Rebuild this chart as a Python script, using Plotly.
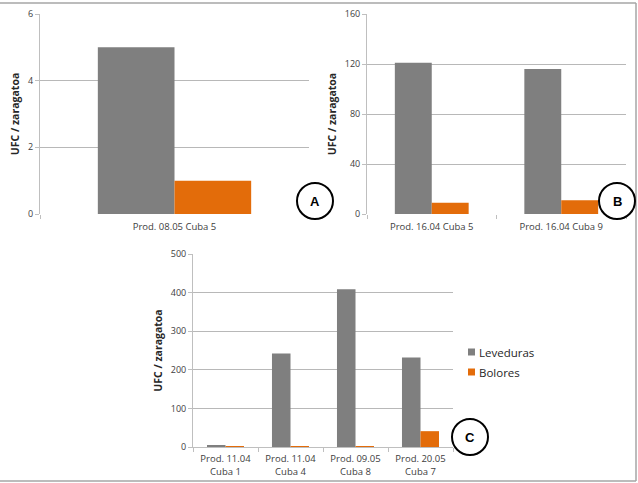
import plotly.graph_objects as go

W, H = 638, 483

series_names = ["Leveduras", "Bolores"]
colors = ["#7f7f7f", "#e36c0a"]

cats_a = ["Prod. 08.05 Cuba 5"]
lev_a = [5]
bol_a = [1]

cats_b = ["Prod. 16.04 Cuba 5", "Prod. 16.04 Cuba 9"]
lev_b = [121, 116]
bol_b = [9, 11]

cats_c = ["Prod. 11.04<br>Cuba 1", "Prod. 11.04<br>Cuba 4", "Prod. 09.05<br>Cuba 8", "Prod. 20.05<br>Cuba 7"]
lev_c = [4, 242, 409, 232]
bol_c = [2, 2, 2, 41]

ticks_a = [0, 2, 4, 6]
ticks_b = [0, 40, 80, 120, 160]
ticks_c = [0, 100, 200, 300, 400, 500]

panel_letters = ["A", "B", "C"]


def px_x(x):
    return x / W


def px_y(y):
    return 1 - y / H


fig = go.Figure()

panels = [
    ("x", "y", cats_a, lev_a, bol_a),
    ("x2", "y2", cats_b, lev_b, bol_b),
    ("x3", "y3", cats_c, lev_c, bol_c),
]
for xa, ya, cats, lev, bol in panels:
    for name, vals, col in zip(series_names, [lev, bol], colors):
        fig.add_trace(go.Bar(x=cats, y=vals, name=name, marker_color=col,
                             marker_line_width=0, xaxis=xa, yaxis=ya,
                             showlegend=False))

FONT = "Open Sans, Liberation Sans, sans-serif"
tick_font = dict(family=FONT, size=9, color="#404040")
cat_font = dict(family=FONT, size=9.5, color="#404040")
title_font = dict(family=FONT, size=10.5, color="#262626")
grid = "#b8b8b8"


def yax(domain, ticks, anchor):
    return dict(domain=domain, range=[0, ticks[-1]], tickvals=ticks, anchor=anchor,
                automargin=False,
                showgrid=True, gridcolor=grid, gridwidth=1, zeroline=False,
                showline=True, linecolor="#bfbfbf", linewidth=1,
                ticks="outside", ticklen=4, tickcolor="#bfbfbf",
                tickfont=tick_font,
                title=dict(text="<b>UFC / zaragatoa</b>", font=title_font, standoff=6))


def xax(domain, anchor, line, standoff):
    return dict(domain=domain, anchor=anchor, showgrid=False, zeroline=False,
                automargin=False,
                showline=line, linecolor="#bfbfbf", linewidth=1,
                ticks="outside", tickson="boundaries", ticklen=4, tickcolor="#bfbfbf",
                ticklabelstandoff=standoff,
                tickfont=cat_font)


ydom_ab = [px_y(214), px_y(14)]
fig.update_layout(
    template="none",
    width=W, height=H,
    margin=dict(l=0, r=0, t=0, b=0, pad=0),
    paper_bgcolor="white", plot_bgcolor="white",
    barmode="group", bargap=0.43, bargroupgap=0,
    xaxis=xax([px_x(40), px_x(309)], "y", False, 5),
    yaxis=yax(ydom_ab, ticks_a, "x"),
    xaxis2=xax([px_x(367), px_x(626)], "y2", False, 5),
    yaxis2=yax(ydom_ab, ticks_b, "x2"),
    xaxis3=xax([px_x(193), px_x(453)], "y3", True, 3),
    yaxis3=yax([px_y(447), px_y(254)], ticks_c, "x3"),
    showlegend=False,
)

# outer frame lines (top, right, bottom)
frame = dict(type="line", xref="paper", yref="paper", line=dict(color="#a6a6a6", width=1.5))
fig.add_shape(**frame, x0=0, y0=px_y(3), x1=px_x(636), y1=px_y(3))
fig.add_shape(**frame, x0=px_x(636), y0=px_y(3), x1=px_x(636), y1=px_y(481))
fig.add_shape(**frame, x0=0, y0=px_y(481), x1=px_x(636), y1=px_y(481))

# legend (squares + text) for panel C
legend_rows = [352, 372]
for name, col, ly in zip(series_names, colors, legend_rows):
    fig.add_shape(type="rect", xref="paper", yref="paper",
                  x0=px_x(468), x1=px_x(475), y0=px_y(ly + 3.5), y1=px_y(ly - 3.5),
                  line=dict(width=0), fillcolor=col)
    fig.add_annotation(text=name, xref="paper", yref="paper", x=px_x(477), y=px_y(ly),
                       xanchor="left", yanchor="middle", showarrow=False,
                       font=dict(family=FONT, size=11.5, color="#262626"))

# labelled circles
centers = [(315, 201), (617, 201), (470, 437)]
r = 18
for letter, (cx, cy) in zip(panel_letters, centers):
    fig.add_shape(type="circle", xref="paper", yref="paper",
                  x0=px_x(cx - r), x1=px_x(cx + r), y0=px_y(cy + r), y1=px_y(cy - r),
                  line=dict(color="black", width=2), fillcolor="white")
    fig.add_annotation(text="<b>" + letter + "</b>", xref="paper", yref="paper",
                       x=px_x(cx), y=px_y(cy), xanchor="center", yanchor="middle",
                       showarrow=False,
                       font=dict(family="Liberation Sans, sans-serif", size=13, color="black"))

fig.write_html("out.html", config={"displayModeBar": False},
               post_script="document.body.style.margin='0';")
